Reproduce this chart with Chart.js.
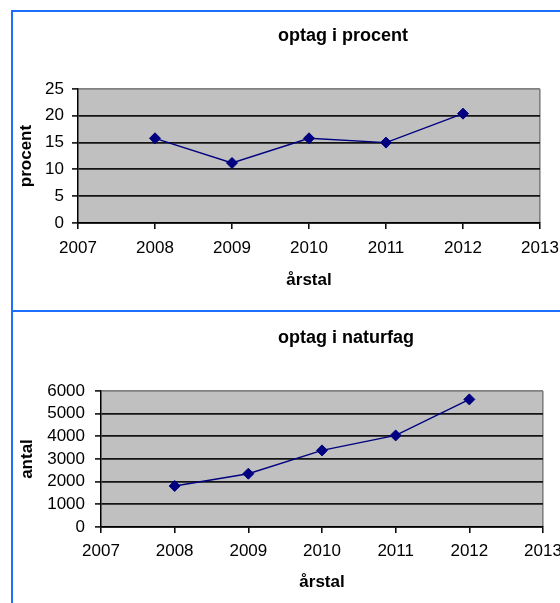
<!DOCTYPE html>
<html>
<head>
<meta charset="utf-8">
<title>optag</title>
<script src="https://cdn.jsdelivr.net/npm/chart.js@4/dist/chart.umd.min.js"></script>
<style>
  html, body { margin: 0; padding: 0; background: #fff; }
  body { width: 560px; height: 603px; position: relative; overflow: hidden;
         font-family: "Liberation Sans", Arial, sans-serif; filter: blur(0.35px); }
  .wrap { position: absolute; left: 0; width: 560px; }
  #w1 { top: 0; height: 310px; }
  #w2 { top: 312px; height: 291px; }
  canvas { display: block; }
  .frame { position: absolute; background: #1f6fff; }
  .ttl { position: absolute; transform: translate(-50%, -50%); white-space: nowrap;
         font: bold 18px "Liberation Sans", Arial, sans-serif; color: #000; }
</style>
</head>
<body>
<div class="wrap" id="w1"><canvas id="c1" width="560" height="310"></canvas></div>
<div class="wrap" id="w2"><canvas id="c2" width="560" height="291"></canvas></div>

<div class="frame" style="left:11px;top:9.5px;width:2px;height:594px"></div>
<div class="frame" style="left:11px;top:9.5px;width:549px;height:2px"></div>
<div class="frame" style="left:11px;top:310px;width:549px;height:2px"></div>

<div class="ttl" style="left:343px;top:35px">optag i procent</div>
<div class="ttl" style="left:346px;top:337px">optag i naturfag</div>

<script>
// Years on the x axis and the two measured series
const years = [2008, 2009, 2010, 2011, 2012];
const optagProcent = [15.8, 11.2, 15.8, 15.0, 20.4];
const optagAntal = [1810, 2350, 3380, 4040, 5630];

// Axis ranges: [min, max, step]
const yearAxis = [2007, 2013, 1];
const procentAxis = [0, 25, 5];
const antalAxis = [0, 6000, 1000];

const FONT = '"Liberation Sans", Arial, sans-serif';
const tickFont = { family: FONT, size: 17, weight: 'normal' };
const axisTitleFont = { family: FONT, size: 17, weight: 'bold' };

// Grey plot-area background
const plotFill = {
  id: 'plotFill',
  beforeDraw(chart) {
    const a = chart.chartArea;
    const ctx = chart.ctx;
    ctx.save();
    ctx.fillStyle = '#c0c0c0';
    ctx.fillRect(a.left, a.top, a.right - a.left, a.bottom - a.top);
    ctx.restore();
  }
};

function lineChart(id, values, yAxis, yTitle, g) {
  const [yMin, yMax, yStep] = yAxis;
  return new Chart(document.getElementById(id), {
    type: 'scatter',
    data: {
      datasets: [{
        data: years.map((x, i) => ({ x: x, y: values[i] })),
        showLine: true,
        borderColor: '#000080',
        borderWidth: 1.4,
        pointStyle: 'rectRot',
        pointRadius: 5.5,
        pointHoverRadius: 5.5,
        pointBackgroundColor: '#000080',
        pointBorderColor: '#000080',
        pointBorderWidth: 1
      }]
    },
    options: {
      responsive: false,
      animation: false,
      devicePixelRatio: 1,
      layout: { padding: { left: 0, top: g.top, right: g.right, bottom: g.bottom } },
      plugins: {
        legend: { display: false },
        tooltip: { enabled: false },
        title: { display: false }
      },
      scales: {
        x: {
          type: 'linear',
          min: yearAxis[0],
          max: yearAxis[1],
          ticks: { stepSize: yearAxis[2], callback: v => String(v), color: '#000',
                   font: tickFont, padding: g.xPad, maxRotation: 0, autoSkip: false },
          grid: {
            drawOnChartArea: true,
            color: c => (c.tick && c.tick.value === yearAxis[1]) ? '#808080' : 'rgba(0,0,0,0)',
            lineWidth: 1.6,
            tickColor: '#000',
            tickWidth: 1.5,
            tickLength: 6
          },
          border: { color: '#000', width: 1.5 },
          title: { display: true, text: 'årstal', color: '#000', font: axisTitleFont,
                   padding: { top: 0, bottom: g.xTitlePad } },
          afterFit: s => { s.height = g.xH; s.paddingLeft = 0; s.paddingRight = 0; }
        },
        y: {
          min: yMin,
          max: yMax,
          ticks: { stepSize: yStep, callback: v => String(v), color: '#000',
                   font: tickFont, padding: g.yPad, autoSkip: false },
          grid: {
            color: c => (c.tick && c.tick.value === yMax) ? '#808080' : '#141414',
            lineWidth: 1.8,
            tickColor: '#000',
            tickWidth: 1.5,
            tickLength: 6
          },
          border: { color: '#000', width: 1.5 },
          title: { display: true, text: yTitle, color: '#000', font: axisTitleFont,
                   padding: { top: g.yTitlePad, bottom: 0 } },
          afterFit: s => { s.width = g.yW; s.paddingTop = 0; s.paddingBottom = 0; }
        }
      }
    },
    plugins: [plotFill]
  });
}

lineChart('c1', optagProcent, procentAxis, 'procent',
  { top: 89, right: 20, bottom: 17, xH: 70, xPad: 9, xTitlePad: 2, yW: 78, yPad: 8, yTitlePad: 16 });

lineChart('c2', optagAntal, antalAxis, 'antal',
  { top: 79, right: 17, bottom: 6, xH: 70, xPad: 8, xTitlePad: 4, yW: 101, yPad: 10, yTitlePad: 17 });
</script>
</body>
</html>
